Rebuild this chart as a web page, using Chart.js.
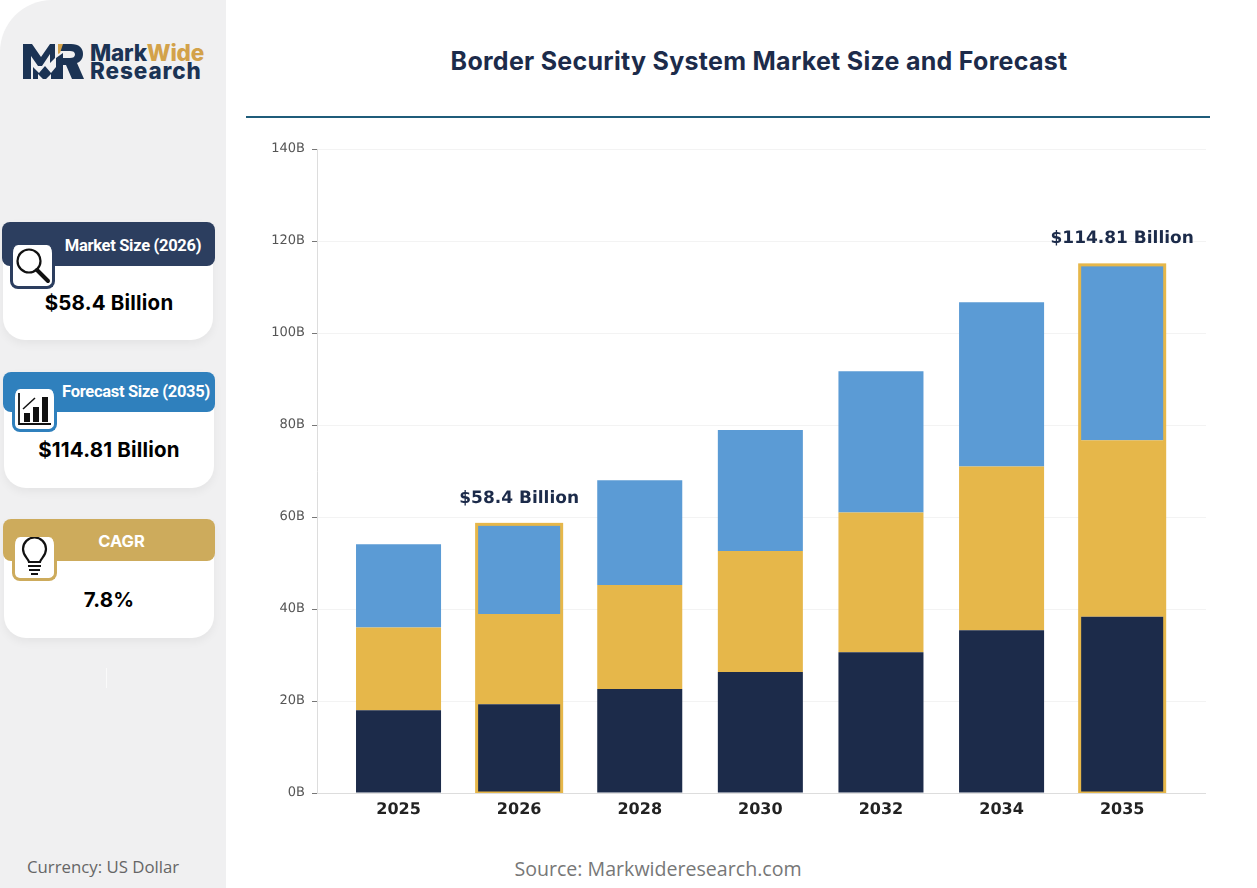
<!DOCTYPE html>
<html>
<head>
<meta charset="utf-8">
<title>Border Security System Market Size and Forecast</title>
<script src="https://cdn.jsdelivr.net/npm/chart.js@4/dist/chart.umd.min.js"></script>
<style>
html, body { margin: 0; padding: 0; background: #fff; }
body { position: relative; width: 1257px; height: 888px; overflow: hidden; font-family: Inter, sans-serif; }
.abs { position: absolute; }
#side { left: 0; top: 0; width: 226px; height: 888px; background: #f0f0f1; border-top-left-radius: 52px; }
#title { left: 259px; width: 1000px; top: 45px; text-align: center; font: 700 25px/33px Inter, sans-serif; color: #1c2b4a; letter-spacing: 0.28px; }
#rule { left: 246px; top: 116px; width: 964px; height: 2px; background: #1f5c7a; }
#chartBox { left: 250px; top: 130px; }
.logo { left: 90px; font: 800 22.5px/24px Inter, sans-serif; color: #1b3354; letter-spacing: -0.2px; }
.logo span { color: #d3a24a; }
.card { background: #fff; border-radius: 8px 8px 22px 22px; box-shadow: 0 4px 10px rgba(0,0,0,0.05); }
.head { border-radius: 8px; color: #fff; text-align: center; font-family: Roboto, sans-serif; font-weight: 700; font-size: 16.5px; letter-spacing: -0.3px; }
.val { text-align: center; color: #000; font: 700 20.5px/26px Inter, sans-serif; letter-spacing: 0.2px; }
.icon { background: #fff; border-radius: 8px; border-style: solid; border-width: 0 3px 3px 3px; box-sizing: border-box; }
#currency { left: 27px; top: 857px; font: 16.8px/20px "Open Sans", sans-serif; color: #666; }
#source { left: 458px; width: 400px; top: 857px; text-align: center; font: 19.6px/24px "Open Sans", sans-serif; color: #777; }
</style>
</head>
<body>
<div class="abs" id="side"></div>

<svg class="abs" style="left:22px;top:43px" width="62" height="37" viewBox="0 0 62 37">
  <path fill="#1b3354" d="M1 1h9l9 13 9-13h5v14l-5 5V11l-8 12-4 0-7-10v23H1z"/>
  <path fill="#1b3354" d="M11 36V24l6 6 6-7 6 7 5-6v12h-5v-5l-5 5h-3l-5-5v5z"/>
  <path fill="#1b3354" d="M36 1h13c8 0 12 4 12 10 0 5-3 8-6 9l7 16H50l-6-14h-3v14h-7V15l7-5v5h7c3 0 5-1 5-3.500s-2-3.500-5-3.500h-12z"/>
  <path fill="#d3a24a" d="M36 1h5l-3 9-2 1z"/>
</svg>
<div class="abs logo" style="top:41px">Mark<span>Wide</span></div>
<div class="abs logo" style="top:59px;letter-spacing:0.9px">Research</div>

<div class="abs card" style="left:3px;top:222px;width:210px;height:118px"></div>
<div class="abs head" style="left:2px;top:222px;width:213px;height:44px;background:#2c3e5f;line-height:47px;text-indent:49px">Market Size (2026)</div>
<div class="abs icon" style="left:10px;top:245px;width:45px;height:44px;border-color:#2c3e5f">
  <svg width="39" height="41" viewBox="0 0 39 41"><circle cx="16" cy="16" r="11.500" fill="none" stroke="#111" stroke-width="2.200"/><path d="M24 25l11 11" stroke="#111" stroke-width="4" stroke-linecap="round"/></svg>
</div>
<div class="abs val" style="left:3px;top:290px;width:212px">$58.4 Billion</div>

<div class="abs card" style="left:4px;top:372px;width:210px;height:116px"></div>
<div class="abs head" style="left:3px;top:372px;width:212px;height:40px;background:#2f80bd;line-height:39px;text-indent:54px">Forecast Size (2035)</div>
<div class="abs icon" style="left:12px;top:389px;width:45px;height:43px;border-color:#2f80bd">
  <svg width="39" height="40" viewBox="0 0 39 40"><path d="M4 4v31h32" fill="none" stroke="#111" stroke-width="1.800"/><rect x="9" y="24" width="6" height="9" fill="#111"/><rect x="18" y="18" width="6" height="15" fill="#111"/><rect x="27" y="8" width="6" height="25" fill="#111"/><path d="M8 20l12-11" stroke="#111" stroke-width="1.500"/></svg>
</div>
<div class="abs val" style="left:3px;top:437px;width:212px">$114.81 Billion</div>

<div class="abs card" style="left:4px;top:519px;width:210px;height:119px"></div>
<div class="abs head" style="left:3px;top:519px;width:212px;height:42px;background:#cdab5c;line-height:45px;text-indent:25px;font-family:Inter,sans-serif;font-size:16.5px;letter-spacing:0">CAGR</div>
<div class="abs icon" style="left:12px;top:537px;width:45px;height:44px;border-color:#cdab5c">
  <svg width="39" height="41" viewBox="0 0 39 41"><path d="M14 25c-1-4-6-6-6-13a11.500 11.500 0 0 1 23 0c0 7-5 9-6 13z" fill="none" stroke="#111" stroke-width="2.200"/><path d="M13 29h13M14 33h11M16 37h7" stroke="#111" stroke-width="2.200"/></svg>
</div>
<div class="abs val" style="left:3px;top:587px;width:212px">7.8%</div>

<div class="abs" style="left:106px;top:668px;width:1px;height:20px;background:#fafafa"></div>
<div class="abs" id="currency">Currency: US Dollar</div>

<div class="abs" id="title">Border Security System Market Size and Forecast</div>
<div class="abs" id="rule"></div>

<div class="abs" id="chartBox"><canvas id="marketChart" width="956" height="703"></canvas></div>
<div class="abs" id="source">Source: Markwideresearch.com</div>

<script>
const categories = ['2025', '2026', '2028', '2030', '2032', '2034', '2035'];
const baseValues = [18, 19.3, 22.6, 26.3, 30.6, 35.4, 38.3];
const middleValues = [18, 19.6, 22.6, 26.3, 30.4, 35.6, 38.4];
const topValues = [18.1, 19.5, 22.8, 26.3, 30.7, 35.7, 38.11];
const calloutIndexes = [1, 6];
const calloutLabels = ['$58.4 Billion', '$114.81 Billion'];
const yTicks = [0, 20, 40, 60, 80, 100, 120, 140];

const navy = '#1c2b4a';
const gold = '#e6b74a';
const blue = '#5b9bd5';

function toPoints(values) {
    return values.map((v, i) => ({ x: i, y: v }));
}

// gold frame round the highlighted stacks, and the value above them
const calloutPlugin = {
    id: 'callouts',
    beforeDraw(chart) {
        chart.ctx.textRendering = 'geometricPrecision';
    },
    afterDatasetsDraw(chart) {
        const ctx = chart.ctx;
        const area = chart.chartArea;
        const bars = chart.getDatasetMeta(2).data;
        const xScale = chart.scales.x;
        const yScale = chart.scales.y;
        calloutIndexes.forEach((idx, n) => {
            const total = baseValues[idx] + middleValues[idx] + topValues[idx];
            const half = bars[idx].width / 2;
            const cx = xScale.getPixelForValue(idx);
            const top = yScale.getPixelForValue(total);
            ctx.save();
            ctx.beginPath();
            ctx.rect(area.left, area.top, area.right - area.left, area.bottom - area.top);
            ctx.clip();
            ctx.strokeStyle = gold;
            ctx.lineWidth = 3;
            ctx.strokeRect(cx - half, top, half * 2, yScale.getPixelForValue(0) - top);
            ctx.restore();

            ctx.save();
            ctx.fillStyle = navy;
            ctx.font = 'bold 17px "DejaVu Sans"';
            ctx.textAlign = 'center';
            ctx.textBaseline = 'middle';
            ctx.fillText(calloutLabels[n], cx, top - 26);
            ctx.restore();
        });
    }
};

new Chart(document.getElementById('marketChart'), {
    type: 'bar',
    data: {
        datasets: [
            { label: 'Base', data: toPoints(baseValues), backgroundColor: navy },
            { label: 'Middle', data: toPoints(middleValues), backgroundColor: gold },
            { label: 'Top', data: toPoints(topValues), backgroundColor: blue }
        ]
    },
    options: {
        responsive: false,
        animation: false,
        devicePixelRatio: 1,
        layout: { padding: { top: 19, right: 0, left: 0, bottom: 0 } },
        categoryPercentage: 1,
        barPercentage: 0.705,
        plugins: { legend: { display: false }, tooltip: { enabled: false } },
        scales: {
            x: {
                type: 'linear',
                offset: false,
                stacked: true,
                min: -0.676,
                max: 6.695,
                afterBuildTicks(scale) {
                    scale.ticks = categories.map((c, i) => ({ value: i }));
                },
                afterFit(scale) { scale.height = 40; },
                grid: { display: false },
                border: { color: '#dddddd', width: 1 },
                ticks: {
                    autoSkip: false,
                    maxRotation: 0,
                    padding: -1,
                    color: '#222222',
                    font: { family: '"DejaVu Sans"', size: 16, weight: 'bold' },
                    callback: value => categories[value]
                }
            },
            y: {
                stacked: true,
                min: 0,
                max: 140,
                afterBuildTicks(scale) {
                    scale.ticks = yTicks.map(v => ({ value: v }));
                },
                afterFit(scale) { scale.width = 67; },
                grid: { color: '#f3f3f3', tickColor: '#777777', tickLength: 5 },
                border: { color: '#dddddd', width: 1 },
                ticks: {
                    padding: 7,
                    color: '#555555',
                    font: { family: '"DejaVu Sans"', size: 13 },
                    callback: value => value + 'B'
                }
            }
        }
    },
    plugins: [calloutPlugin]
});
</script>
</body>
</html>
